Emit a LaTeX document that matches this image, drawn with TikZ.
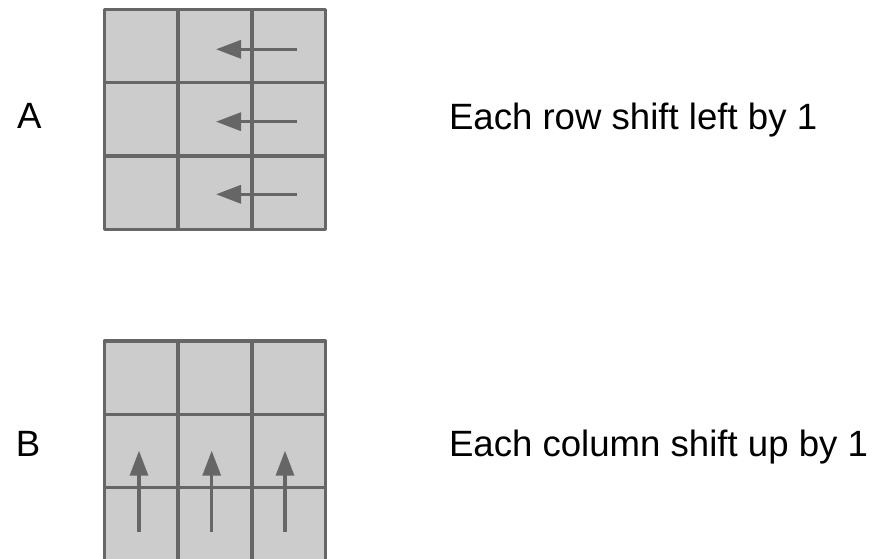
\documentclass[tikz,border=0pt]{standalone}
\usepackage{fontspec}
\setmainfont{Liberation Sans}
\usetikzlibrary{arrows.meta}
\definecolor{gridline}{RGB}{102,102,102}
\definecolor{cellfill}{RGB}{204,204,204}
\begin{document}
\begin{tikzpicture}[x=1pt,y=1pt,
  cell/.style={draw=gridline,fill=cellfill,line width=3.3pt,line join=round,minimum width=73.8pt,minimum height=73.3pt,inner sep=0pt,outer sep=0pt},
  shiftarrow/.style={draw=gridline,line width=3.3pt,-{Triangle[length=25pt,width=18pt]}},
  label/.style={inner sep=0pt,anchor=base west,font=\fontsize{36.6}{40}\selectfont}]
\useasboundingbox (0,0) rectangle (883,-559);
% grid A
\foreach \r in {1,2,3}{
  \foreach \c in {1,2,3}{
    \node[cell] (a\r\c) at ({104.3+73.8*(\c-0.5)},{-(9.3+73.3*(\r-0.5))}) {};
  }
}
% grid B
\foreach \r in {1,2,3}{
  \foreach \c in {1,2,3}{
    \node[cell] (b\r\c) at ({104.3+73.8*(\c-0.5)},{-(341+73.3*(\r-0.5))}) {};
  }
}
% arrows A
\coordinate (as1) at (296.7,-49.3); \coordinate (ae1) at (216,-49.3);
\coordinate (as2) at (296.7,-121.7); \coordinate (ae2) at (216,-121.7);
\coordinate (as3) at (296.7,-194.3); \coordinate (ae3) at (216,-194.3);
\draw[shiftarrow] (as1) -- (ae1);
\draw[shiftarrow] (as2) -- (ae2);
\draw[shiftarrow] (as3) -- (ae3);
% arrows B
\coordinate (bs1) at (139,-531.7); \coordinate (be1) at (139,-450.7);
\coordinate (bs2) at (211.7,-531.7); \coordinate (be2) at (211.7,-450.7);
\coordinate (bs3) at (285,-531.7); \coordinate (be3) at (285,-450.7);
\draw[shiftarrow] (bs1) -- (be1);
\draw[shiftarrow] (bs2) -- (be2);
\draw[shiftarrow] (bs3) -- (be3);
% labels
\node[label] (la) at (16.8,-128.5) {A};
\node[label] (lb) at (15.6,-456.5) {B};
\node[label] (ta) at (448.8,-129.3) {Each row shift left by 1};
\node[label] (tb) at (448.8,-456) {Each column shift up by 1};
\end{tikzpicture}
\end{document}
